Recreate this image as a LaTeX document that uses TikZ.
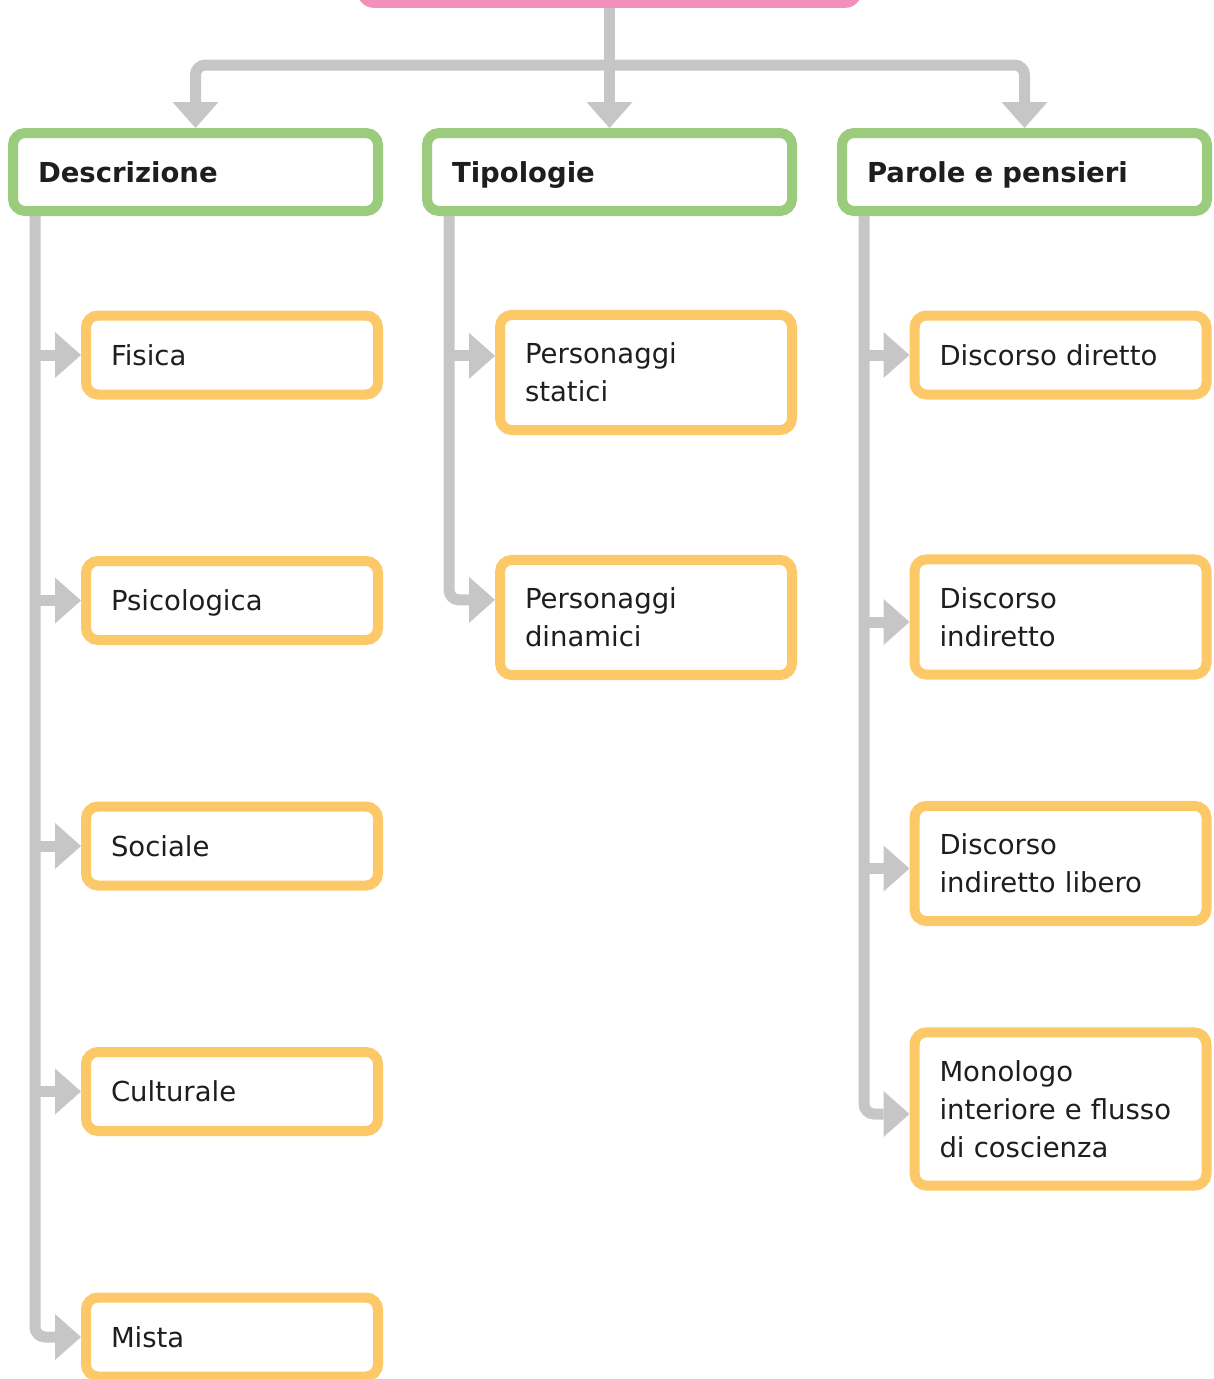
\documentclass[tikz,border=0pt]{standalone}
\usepackage{fontspec}
\setmainfont{DejaVu Sans}
\usepackage{xcolor}
\usetikzlibrary{arrows.meta}
\definecolor{rootpink}{HTML}{F190BA}
\definecolor{headgreen}{HTML}{9BCB7D}
\definecolor{itemorange}{HTML}{FDC868}
\definecolor{linkgrey}{HTML}{C6C6C6}
\definecolor{inkgrey}{HTML}{1E1E1E}

\begin{document}
\begin{tikzpicture}[
      x=1pt, y=-1pt,
      font=\fontsize{27.5}{38}\selectfont,
      text=inkgrey,
      type-root/.style={rectangle, fill=rootpink, rounded corners=16pt, minimum width=504pt, minimum height=90pt, anchor=south},
      type-head/.style={rectangle, draw=headgreen, fill=white, line width=10pt, rounded corners=12pt, text width=315pt, inner xsep=25pt, minimum height=78pt, text height=20pt, text depth=0pt, align=left, font=\fontsize{27.5}{38}\selectfont\bfseries},
      type-item/.style={rectangle, draw=itemorange, fill=white, line width=10pt, rounded corners=12pt, text width=242pt, inner xsep=25pt, inner ysep=28pt, minimum height=79pt, align=left},
      type-line/.style={type-item, text height=20pt, text depth=0pt},
      link/.style={draw=linkgrey, line width=11pt, rounded corners=10pt, -{Triangle[width=46pt,length=26pt,line width=0pt]}}
    ]
      \useasboundingbox (0,0) rectangle (1214,1379);

      \node[type-root] (root) at (609.5,8) {};

      \node[type-head] (desc) at (195.5,172) {Descrizione};
      \node[type-head] (tipo) at (609.5,172) {Tipologie};
      \node[type-head] (parole) at (1024.5,172) {Parole e pensieri};

      \node[type-line] (fisica) at (232,355) {Fisica};
      \node[type-line] (psicologica) at (232,600.5) {Psicologica};
      \node[type-line] (sociale) at (232,846) {Sociale};
      \node[type-line] (culturale) at (232,1091.5) {Culturale};
      \node[type-line] (mista) at (232,1337) {Mista};

      \node[type-item] (statici) at (646,372.5) {Personaggi\\statici};
      \node[type-item] (dinamici) at (646,617.5) {Personaggi\\dinamici};

      \node[type-line] (diretto) at (1060.5,355) {Discorso diretto};
      \node[type-item] (indiretto) at (1060.5,617) {Discorso\\indiretto};
      \node[type-item] (libero) at (1060.5,863.5) {Discorso\\indiretto libero};
      \node[type-item] (monologo) at (1060.5,1109) {Monologo\\interiore e flusso\\di coscienza};

      \coordinate (bar) at (609.5,65);
      \draw[link] (root.south) -- (tipo.north);
      \draw[link] (bar) -| (desc.north);
      \draw[link] (bar) -| (parole.north);

      \coordinate (dline) at ([xshift=27pt]desc.south west);
      \draw[link] (dline) |- (mista.west);
      \foreach \n in {fisica, psicologica, sociale, culturale}
        \draw[link] (dline |- \n.west) -- (\n.west);

      \coordinate (tline) at ([xshift=27pt]tipo.south west);
      \coordinate (statici-in) at ([yshift=-46pt]statici.north west);
      \coordinate (dinamici-in) at ([yshift=-45pt]dinamici.north west);
      \draw[link] (tline) |- (dinamici-in);
      \draw[link] (tline |- statici-in) -- (statici-in);

      \coordinate (pline) at ([xshift=27pt]parole.south west);
      \coordinate (indiretto-in) at ([yshift=-5pt]indiretto.west);
      \coordinate (libero-in) at ([yshift=-5pt]libero.west);
      \coordinate (monologo-in) at ([yshift=-5pt]monologo.west);
      \draw[link] (pline) |- (monologo-in);
      \draw[link] (pline |- diretto.west) -- (diretto.west);
      \draw[link] (pline |- indiretto-in) -- (indiretto-in);
      \draw[link] (pline |- libero-in) -- (libero-in);
\end{tikzpicture}
\end{document}
